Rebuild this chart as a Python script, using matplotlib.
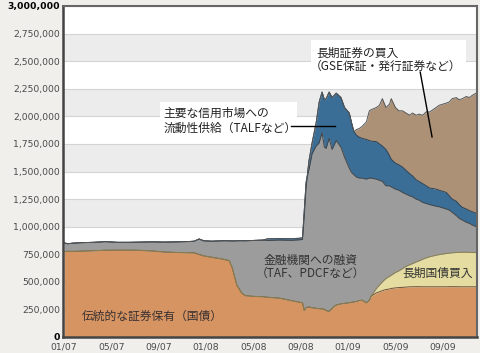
import matplotlib
matplotlib.use("Agg")
import matplotlib.pyplot as plt
import numpy as np
from matplotlib.ticker import FuncFormatter, FixedLocator
from matplotlib.patches import Rectangle

plt.rcParams['font.family'] = ['Noto Sans CJK JP', 'DejaVu Sans']

# x position: months since January 2007
months = [0, 0.3, 0.7, 1.5, 2.5, 3.5, 4.5, 5.5, 6.5, 7.5, 8.5, 9.5, 10.5, 11.0, 11.4, 11.8,
          12.5, 13.3, 13.95, 14.2, 14.6, 15.0, 15.3, 16.0, 16.8, 17.2, 18.2, 19.2, 19.9, 20.15,
          20.3, 20.45, 20.55, 20.7, 20.96, 21.3, 21.56, 21.8, 22.0, 22.15, 22.4, 22.65, 23.0,
          23.4, 23.7, 24.1, 24.3, 24.5, 24.7, 24.95, 25.2, 25.55, 25.8, 25.95, 26.4, 26.65,
          26.9, 27.2, 27.5, 27.65, 28.0, 28.3, 28.6, 28.9, 29.2, 29.45, 29.75, 30.0, 30.3,
          30.6, 30.9, 31.45, 31.7, 32.0, 32.3, 32.55, 32.8, 33.15, 33.4, 33.65, 34.0, 34.25,
          34.5, 34.83]

# cumulative levels (millions of USD x 1e6 on chart)
top_traditional = [.775, .776, .776, .778, .782, .786, .787, .787, .785, .779, .770, .766, .764, .762, .748, .735,
                   .722, .708, .692, .630, .470, .400, .375, .368, .365, .360, .352, .330, .315, .310,
                   .240, .265, .270, .272, .265, .260, .257, .255, .250, .240, .232, .260, .290,
                   .300, .305, .310, .315, .318, .322, .330, .333, .310, .330, .370, .400, .410,
                   .420, .430, .435, .440, .445, .448, .450, .452, .455, .455, .456, .456, .455,
                   .455, .455, .455, .455, .455, .455, .456, .456, .456, .455, .455, .455, .455,
                   .455, .455]

top_long_treasury = [.775, .776, .776, .778, .782, .786, .787, .787, .785, .779, .770, .766, .764, .762, .748, .735,
                     .722, .708, .692, .630, .470, .400, .375, .368, .365, .360, .352, .330, .315, .310,
                     .240, .265, .270, .272, .265, .260, .257, .255, .250, .240, .232, .260, .290,
                     .300, .305, .310, .315, .318, .322, .330, .333, .310, .330, .370, .440, .470,
                     .500, .530, .550, .560, .585, .600, .620, .640, .655, .665, .680, .690, .705,
                     .717, .728, .741, .747, .752, .757, .760, .763, .766, .767, .768, .768, .767,
                     .766, .765]

top_lending = [.853, .845, .850, .855, .858, .864, .858, .858, .860, .862, .860, .862, .865, .868, .888, .872,
               .868, .872, .872, .870, .872, .873, .872, .875, .878, .875, .878, .876, .880, .884,
               1.10, 1.35, 1.45, 1.52, 1.66, 1.73, 1.76, 1.85, 1.72, 1.71, 1.80, 1.70, 1.78,
               1.72, 1.63, 1.53, 1.49, 1.47, 1.45, 1.44, 1.44, 1.43, 1.44, 1.44, 1.43, 1.42,
               1.41, 1.37, 1.37, 1.36, 1.34, 1.33, 1.31, 1.295, 1.28, 1.27, 1.25, 1.24, 1.22,
               1.21, 1.20, 1.185, 1.18, 1.17, 1.16, 1.15, 1.13, 1.10, 1.075, 1.06, 1.04, 1.03,
               1.015, 1.00]

top_credit_markets = [.853, .845, .850, .855, .858, .864, .858, .858, .860, .862, .860, .862, .865, .868, .888, .872,
                      .868, .872, .872, .870, .872, .873, .872, .875, .878, .890, .893, .891, .895, .900,
                      1.15, 1.40, 1.46, 1.60, 1.76, 1.94, 2.13, 2.22, 2.15, 2.16, 2.22, 2.17, 2.21,
                      2.17, 2.08, 2.03, 1.94, 1.86, 1.83, 1.81, 1.80, 1.79, 1.78, 1.775, 1.77, 1.75,
                      1.73, 1.70, 1.645, 1.61, 1.575, 1.56, 1.54, 1.51, 1.48, 1.46, 1.425, 1.41, 1.39,
                      1.37, 1.35, 1.34, 1.33, 1.32, 1.31, 1.28, 1.25, 1.23, 1.20, 1.175, 1.16, 1.145,
                      1.135, 1.12]

top_long_securities = [.853, .845, .850, .855, .858, .864, .858, .858, .860, .862, .860, .862, .865, .868, .888, .872,
                       .868, .872, .872, .870, .872, .873, .872, .875, .878, .890, .893, .891, .895, .900,
                       1.15, 1.40, 1.46, 1.60, 1.76, 1.94, 2.13, 2.22, 2.15, 2.16, 2.22, 2.17, 2.21,
                       2.17, 2.08, 2.03, 1.94, 1.86, 1.88, 1.89, 1.91, 1.95, 2.05, 2.06, 2.08, 2.10,
                       2.16, 2.08, 2.11, 2.16, 2.08, 2.05, 2.05, 2.03, 2.01, 2.03, 2.01, 2.02, 2.01,
                       2.04, 2.04, 2.08, 2.10, 2.11, 2.12, 2.13, 2.16, 2.17, 2.15, 2.16, 2.18, 2.17,
                       2.19, 2.21]

x_tick_pos = [0, 4, 8, 12, 16, 20, 24, 28, 32]
x_tick_labels = ['01/07', '05/07', '09/07', '01/08', '05/08', '09/08', '01/09', '05/09', '09/09']
y_ticks = np.arange(0, 3000001, 250000)

SCALE = 1_000_000
x = np.array(months)
levels = [np.zeros_like(x)] + [np.array(v) * SCALE for v in
          (top_traditional, top_long_treasury, top_lending, top_credit_markets, top_long_securities)]
fills = ['#d59462', '#e4dca0', '#9c9c9c', '#3a6e96', '#ac9176']
edges = ['#6e5038', '#8a8050', '#454545', '#263f55', '#555555']

fig = plt.figure(figsize=(4.8, 3.53), dpi=100, facecolor='#f0efeb')
ax = fig.add_axes([63 / 480, 16 / 353, 414 / 480, 331 / 353])
ax.set_facecolor('white')

for k in range(12):
    if k % 2 == 0:
        ax.axhspan(k * 250000, (k + 1) * 250000, color='#ececec', lw=0, zorder=0)
for yv in y_ticks:
    ax.axhline(yv, color='#d4d4d4', lw=0.8, zorder=0.5)

for i in range(5):
    ax.fill_between(x, levels[i], levels[i + 1], color=fills[i], lw=0, zorder=2)
for i in range(5):
    ax.plot(x, levels[i + 1], color=edges[i], lw=0.7, zorder=3)

ax.set_xlim(-0.1, 34.9)
ax.set_ylim(0, 3000000)
ax.xaxis.set_major_locator(FixedLocator(x_tick_pos))
ax.set_xticklabels(x_tick_labels)
ax.yaxis.set_major_locator(FixedLocator(y_ticks))
ax.yaxis.set_major_formatter(FuncFormatter(lambda v, p: f'{int(v):,}'))
ax.tick_params(length=0, labelsize=6.7, colors='#4a4a4a')
ax.tick_params(axis='y', pad=2)
ax.tick_params(axis='x', pad=4)
for lab in ax.get_xticklabels() + ax.get_yticklabels():
    lab.set_family('DejaVu Sans')
ylabs = ax.get_yticklabels()
for lab in (ylabs[0], ylabs[-1]):
    lab.set_fontweight('bold')
    lab.set_color('black')

for s in ('left', 'bottom'):
    ax.spines[s].set_color('#444444')
    ax.spines[s].set_linewidth(1.8)
for s in ('top', 'right'):
    ax.spines[s].set_color('#666666')
    ax.spines[s].set_linewidth(1.5)
for s in ax.spines.values():
    s.set_zorder(6)

# annotation boxes
ax.add_patch(Rectangle((20.88, 2.401e6), 13.1, 0.291e6, color='white', lw=0, zorder=4))
ax.add_patch(Rectangle((8.07, 1.803e6), 11.63, 0.326e6, color='white', lw=0, zorder=4))

fs = 8.5
ax.text(21.3, 2.576e6, '長期証券の買入', fontsize=fs, color='#222222', va='center', ha='left', zorder=5)
ax.text(20.8, 2.456e6, '（GSE保証・発行証券など）', fontsize=fs, color='#222222', va='center', ha='left', zorder=5)
ax.plot([30.1, 31.1], [2.401e6, 1.813e6], color='black', lw=1, zorder=5)

ax.text(8.37, 2.03e6, '主要な信用市場への', fontsize=fs, color='#222222', va='center', ha='left', zorder=5)
ax.text(8.37, 1.893e6, '流動性供給（TALFなど）', fontsize=fs, color='#222222', va='center', ha='left', zorder=5)
ax.plot([19.19, 22.91], [1.911e6, 1.911e6], color='black', lw=1, zorder=5)

ax.text(20.8, 0.696e6, '金融機関への融資', fontsize=fs, color='#333333', va='center', ha='center', zorder=5)
ax.text(20.8, 0.578e6, '（TAF、PDCFなど）', fontsize=fs, color='#333333', va='center', ha='center', zorder=5)

ax.text(28.57, 0.58e6, '長期国債買入', fontsize=fs, color='#333333', va='center', ha='left', zorder=5)
ax.text(1.52, 0.19e6, '伝統的な証券保有（国債）', fontsize=fs, color='#3a3030', va='center', ha='left', zorder=5)

fig.savefig('out.png', dpi=100, facecolor=fig.get_facecolor())
